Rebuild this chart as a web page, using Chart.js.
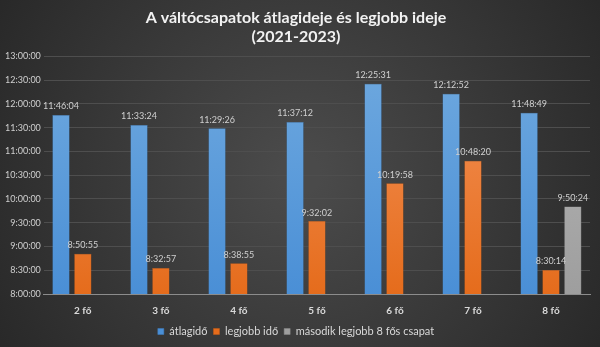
<!DOCTYPE html>
<html>
<head>
<meta charset="utf-8">
<script src="https://cdn.jsdelivr.net/npm/chart.js@4"></script>
<style>
  html, body { margin: 0; padding: 0; background: #2b2b2b; }
  #wrap { width: 600px; height: 347px; }
</style>
</head>
<body>
<div id="wrap"><canvas id="chart" width="600" height="347"></canvas></div>
<script>
// adatok (idők másodpercben, "h:mm:ss" alakból)
const categories = ['2 fő', '3 fő', '4 fő', '5 fő', '6 fő', '7 fő', '8 fő'];
const atlagido = ['11:46:04', '11:33:24', '11:29:26', '11:37:12', '12:25:31', '12:12:52', '11:48:49'];
const legjobbIdo = ['8:50:55', '8:32:57', '8:38:55', '9:32:02', '10:19:58', '10:48:20', '8:30:14'];
const masodikLegjobb = [null, null, null, null, null, null, '9:50:24'];

function toSec(t) {
    if (t === null) return null;
    const p = t.split(':').map(Number);
    return p[0] * 3600 + p[1] * 60 + p[2];
}

function fmt(s) {
    const h = Math.floor(s / 3600);
    const m = Math.floor((s % 3600) / 60);
    const sec = Math.round(s % 60);
    return h + ':' + String(m).padStart(2, '0') + ':' + String(sec).padStart(2, '0');
}

// vertical gradient for the bars
function barGradient(top, bottom) {
    return function(context) {
        const area = context.chart.chartArea;
        if (!area) return bottom;
        const g = context.chart.ctx.createLinearGradient(0, area.top, 0, area.bottom);
        g.addColorStop(0, top);
        g.addColorStop(1, bottom);
        return g;
    };
}

// dark radial background
const bgPlugin = {
    id: 'bg',
    beforeDraw(chart) {
        const ctx = chart.ctx;
        const w = chart.width, h = chart.height;
        const g = ctx.createRadialGradient(w / 2, h / 2, 20, w / 2, h / 2, w * 0.62);
        g.addColorStop(0, '#4a4a4a');
        g.addColorStop(1, '#262626');
        ctx.save();
        ctx.fillStyle = g;
        ctx.fillRect(0, 0, w, h);
        ctx.restore();
    }
};

// time labels above the bars
const labelPlugin = {
    id: 'barLabels',
    afterDatasetsDraw(chart) {
        const ctx = chart.ctx;
        ctx.save();
        ctx.font = '9px Lato, sans-serif';
        ctx.fillStyle = '#d0d0d0';
        ctx.textAlign = 'center';
        ctx.textBaseline = 'bottom';
        chart.data.datasets.forEach((ds, i) => {
            const meta = chart.getDatasetMeta(i);
            meta.data.forEach((bar, j) => {
                const v = ds.data[j];
                if (v === null) return;
                ctx.fillText(fmt(v), bar.x, bar.y - 4);
            });
        });
        ctx.restore();
    }
};

const ctx = document.getElementById('chart');

new Chart(ctx, {
    type: 'bar',
    data: {
        labels: categories,
        datasets: [
            {
                label: 'átlagidő',
                data: atlagido.map(toSec),
                backgroundColor: barGradient('#6fa9df', '#4a8fd6'),
                borderColor: '#3f7fc0',
                borderWidth: 0.5
            },
            {
                label: 'legjobb idő',
                data: legjobbIdo.map(toSec),
                backgroundColor: barGradient('#f4935a', '#e56c1c'),
                borderColor: '#c95d15',
                borderWidth: 0.5
            },
            {
                label: 'második legjobb 8 fős csapat',
                data: masodikLegjobb.map(toSec),
                backgroundColor: barGradient('#b8b8b8', '#9e9e9e'),
                borderColor: '#8a8a8a',
                borderWidth: 0.5
            }
        ]
    },
    options: {
        responsive: false,
        animation: false,
        devicePixelRatio: 1,
        layout: { padding: { left: 2, right: 10, top: 4, bottom: 0 } },
        datasets: {
            bar: { categoryPercentage: 0.84, barPercentage: 0.79 }
        },
        plugins: {
            title: {
                display: true,
                text: ['A váltócsapatok átlagideje és legjobb ideje', '(2021-2023)'],
                color: '#f2f2f2',
                font: { family: 'Lato, "Open Sans", sans-serif', size: 16, weight: 'bold' },
                padding: { top: 4, bottom: 10 },
                lineHeight: 1.3
            },
            legend: {
                position: 'bottom',
                labels: {
                    color: '#d9d9d9',
                    font: { family: 'Lato, sans-serif', size: 11 },
                    boxWidth: 6,
                    boxHeight: 6,
                    padding: 6
                }
            },
            tooltip: { enabled: false }
        },
        scales: {
            x: {
                grid: { display: false },
                border: { color: '#8c8c8c' },
                ticks: {
                    color: '#d9d9d9',
                    font: { family: 'Lato, sans-serif', size: 10, weight: 'bold' },
                    padding: 3
                }
            },
            y: {
                min: 8 * 3600,
                max: 13 * 3600,
                grid: { color: '#4e4e4e', drawTicks: false },
                border: { display: false },
                ticks: {
                    stepSize: 1800,
                    color: '#cfcfcf',
                    font: { family: 'Lato, sans-serif', size: 9 },
                    padding: 3,
                    callback: v => fmt(v)
                }
            }
        }
    },
    plugins: [bgPlugin, labelPlugin]
});
</script>
</body>
</html>
